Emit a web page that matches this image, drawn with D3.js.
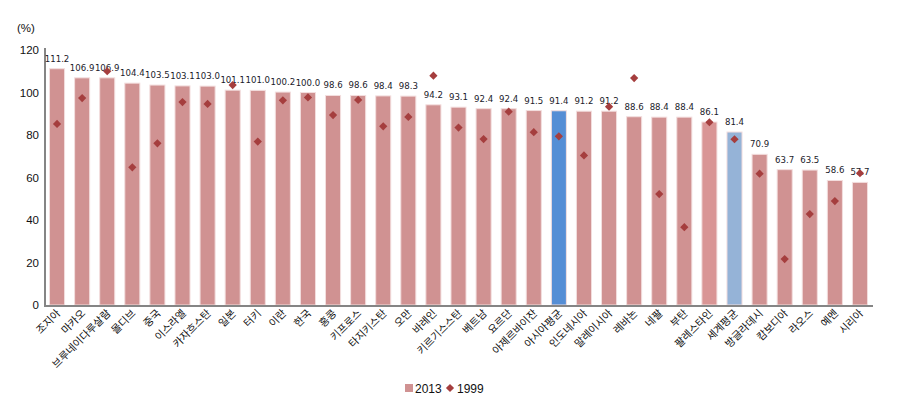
<!DOCTYPE html>
<html><head><meta charset="utf-8">
<script src="https://cdn.jsdelivr.net/npm/d3@7"></script>
<style>body{margin:0;background:#fff}svg{display:block}</style>
</head><body><div id="c"></div>
<script>
const categories = ["조지아","마카오","브루네이다루살람","몰디브","중국","이스라엘","카자흐스탄","일본","터키","이란","한국","홍콩","키프로스","타지키스탄","오만","바레인","키르기스스탄","베트남","요르단","아제르바이잔","아시아평균","인도네시아","말레이시아","레바논","네팔","부탄","팔레스타인","세계평균","방글라데시","캄보디아","라오스","예멘","시리아"];
const values2013 = [111.2,106.9,106.9,104.4,103.5,103.1,103.0,101.1,101.0,100.2,100.0,98.6,98.6,98.4,98.3,94.2,93.1,92.4,92.4,91.5,91.4,91.2,91.2,88.6,88.4,88.4,86.1,81.4,70.9,63.7,63.5,58.6,57.7];
const values1999 = [85.2,97.4,110.0,64.8,76.1,95.5,94.6,103.5,76.9,96.3,97.7,89.4,96.5,84.1,88.5,107.9,83.5,78.1,91.0,81.3,79.4,70.4,93.3,106.8,52.2,36.6,86.0,78.0,61.8,21.6,42.8,48.9,62.0];
const yTicks = [0,20,40,60,80,100,120];
const seriesNames = ["2013","1999"];

const W=898,H=410;
const svg=d3.select("#c").append("svg").attr("width",W).attr("height",H);
const x=d3.scaleBand().domain(categories).range([45,872]).paddingInner(0.4).paddingOuter(0.18);
const y=d3.scaleLinear().domain([0,120]).range([305,50]);

const barColor=(c)=> c==="아시아평균"?"#558ed5": c==="세계평균"?"#95b3d7": c==="팔레스타인"?"#d99595":"#d09292";

// y tick labels
svg.append("g").selectAll("text").data(yTicks).join("text")
  .attr("x",39).attr("y",d=>y(d)).attr("dy","0.35em").attr("text-anchor","end")
  .attr("font-family","Liberation Sans, Arial, sans-serif").attr("font-size",11.5).attr("fill","#111")
  .text(d=>d);
svg.append("text").attr("x",17).attr("y",32).attr("font-family","Liberation Sans, Arial, sans-serif")
  .attr("font-size",11.5).attr("fill","#111").text("(%)");

// bars
svg.append("g").selectAll("rect").data(categories).join("rect")
  .attr("x",d=>x(d)).attr("width",x.bandwidth())
  .attr("y",(d,i)=>y(values2013[i])).attr("height",(d,i)=>y(0)-y(values2013[i]))
  .attr("fill",d=>barColor(d)).attr("stroke","#f3dede").attr("stroke-width",1);

// axes lines
svg.append("line").attr("x1",45).attr("x2",45).attr("y1",y(120)-2).attr("y2",y(0)+1).attr("stroke","#858585").attr("stroke-width",2);
svg.append("line").attr("x1",44).attr("x2",873).attr("y1",y(0)+1).attr("y2",y(0)+1).attr("stroke","#858585").attr("stroke-width",2);

// value labels
svg.append("g").selectAll("text").data(categories).join("text")
  .attr("x",d=>x(d)+x.bandwidth()/2).attr("y",(d,i)=>y(values2013[i])-7)
  .attr("text-anchor","middle").attr("font-family","DejaVu Sans, sans-serif").attr("font-size",8.6).attr("fill","#1a1a2a")
  .text((d,i)=>values2013[i].toFixed(1));

// diamonds
const sym=d3.symbol().type(d3.symbolSquare).size(34);
svg.append("g").selectAll("path").data(categories).join("path")
  .attr("d",sym).attr("fill","#a53e3e")
  .attr("transform",(d,i)=>`translate(${x(d)+x.bandwidth()/2},${y(values1999[i])}) rotate(45)`);

// x labels
svg.append("g").selectAll("text").data(categories).join("text")
  .attr("transform",d=>`translate(${x(d)+x.bandwidth()/2+4},${314}) rotate(-45)`)
  .attr("text-anchor","end").attr("font-family","Noto Sans CJK KR, sans-serif").attr("font-size",10.5).attr("fill","#111")
  .text(d=>d);

// legend
const lg=svg.append("g").attr("font-family","Liberation Sans, Arial, sans-serif").attr("font-size",12).attr("fill","#111");
lg.append("rect").attr("x",405).attr("y",384).attr("width",8).attr("height",8).attr("fill","#d09292");
lg.append("text").attr("x",415).attr("y",393).text(seriesNames[0]);
lg.append("path").attr("d",sym).attr("fill","#a53e3e").attr("transform","translate(450,388) rotate(45)");
lg.append("text").attr("x",457).attr("y",393).text(seriesNames[1]);
</script></body></html>
